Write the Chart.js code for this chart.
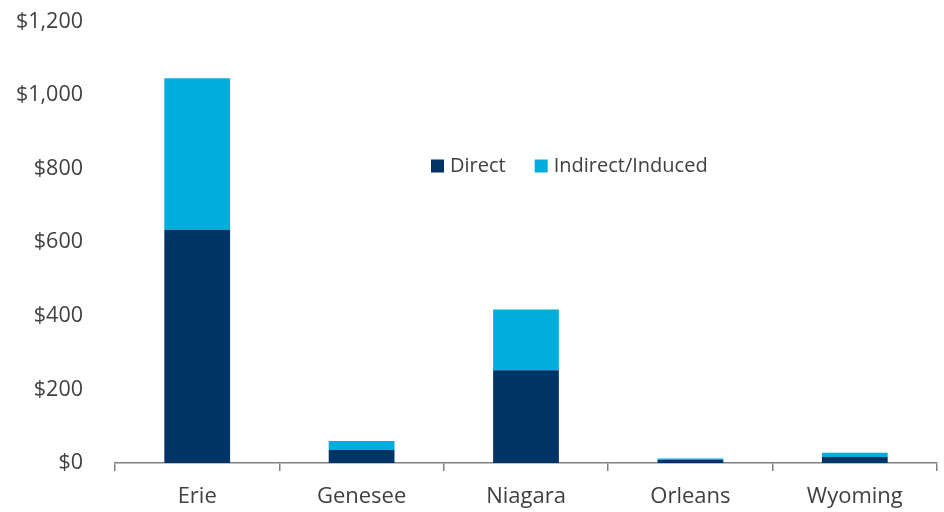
<!DOCTYPE html>
<html>
<head>
<meta charset="utf-8">
<script src="https://cdn.jsdelivr.net/npm/chart.js@4"></script>
<style>
  html, body { margin: 0; padding: 0; background: #fff; }
  #wrap { width: 944px; height: 512px; }
</style>
</head>
<body>
<div id="wrap"><canvas id="chart"></canvas></div>
<script>
// values ($ millions)
const counties = ['Erie', 'Genesee', 'Niagara', 'Orleans', 'Wyoming'];
const direct = [634, 35, 252, 8, 16];
const indirectInduced = [412, 25, 165, 4, 12];
const seriesNames = ['Direct', 'Indirect/Induced'];
const yTicks = [0, 200, 400, 600, 800, 1000, 1200];

const textColor = '#404040';
const fontFamily = "'Open Sans', 'Noto Sans', sans-serif";

// legend drawn inside the plot, like the original
const floatingLegend = {
  id: 'floatingLegend',
  afterDraw(chart) {
    const ctx = chart.ctx;
    ctx.save();
    ctx.font = '20px ' + fontFamily;
    ctx.textBaseline = 'middle';
    ctx.fillStyle = textColor;
    let x = 431;
    const y = 166;
    chart.data.datasets.forEach((ds) => {
      ctx.fillStyle = ds.backgroundColor;
      ctx.fillRect(x, y - 6.5, 13, 13);
      ctx.fillStyle = textColor;
      ctx.fillText(ds.label, x + 19, y);
      x += 19 + ctx.measureText(ds.label).width + 29;
    });
    ctx.restore();
  }
};

new Chart(document.getElementById('chart'), {
  type: 'bar',
  data: {
    labels: counties,
    datasets: [
      { label: seriesNames[0], data: direct, backgroundColor: '#003366' },
      { label: seriesNames[1], data: indirectInduced, backgroundColor: '#00ADDC' }
    ]
  },
  options: {
    responsive: true,
    maintainAspectRatio: false,
    animation: false,
    layout: { padding: { top: 21.5, right: 7, left: 0, bottom: 0 } },
    plugins: { legend: { display: false }, tooltip: { enabled: false } },
    datasets: { bar: { categoryPercentage: 0.4, barPercentage: 1.0 } },
    scales: {
      x: {
        stacked: true,
        grid: { display: true, offset: true, drawOnChartArea: false, tickLength: 8, color: '#808080', lineWidth: 1.5 },
        border: { display: true, color: '#808080', width: 1.5 },
        ticks: { color: textColor, font: { family: fontFamily, size: 22 }, padding: 13 },
        afterFit(scale) { scale.height = 49; }
      },
      y: {
        stacked: true,
        min: 0,
        max: 1200,
        afterBuildTicks(scale) { scale.ticks = yTicks.map(v => ({ value: v })); },
        grid: { display: false, drawTicks: true, tickLength: 32 },
        border: { display: false },
        ticks: {
          color: textColor,
          font: { family: fontFamily, size: 21.5 },
          padding: 0,
          callback: (v) => '$' + Number(v).toLocaleString('en-US')
        },
        afterFit(scale) { scale.width = 115; }
      }
    }
  },
  plugins: [floatingLegend]
});
</script>
</body>
</html>
